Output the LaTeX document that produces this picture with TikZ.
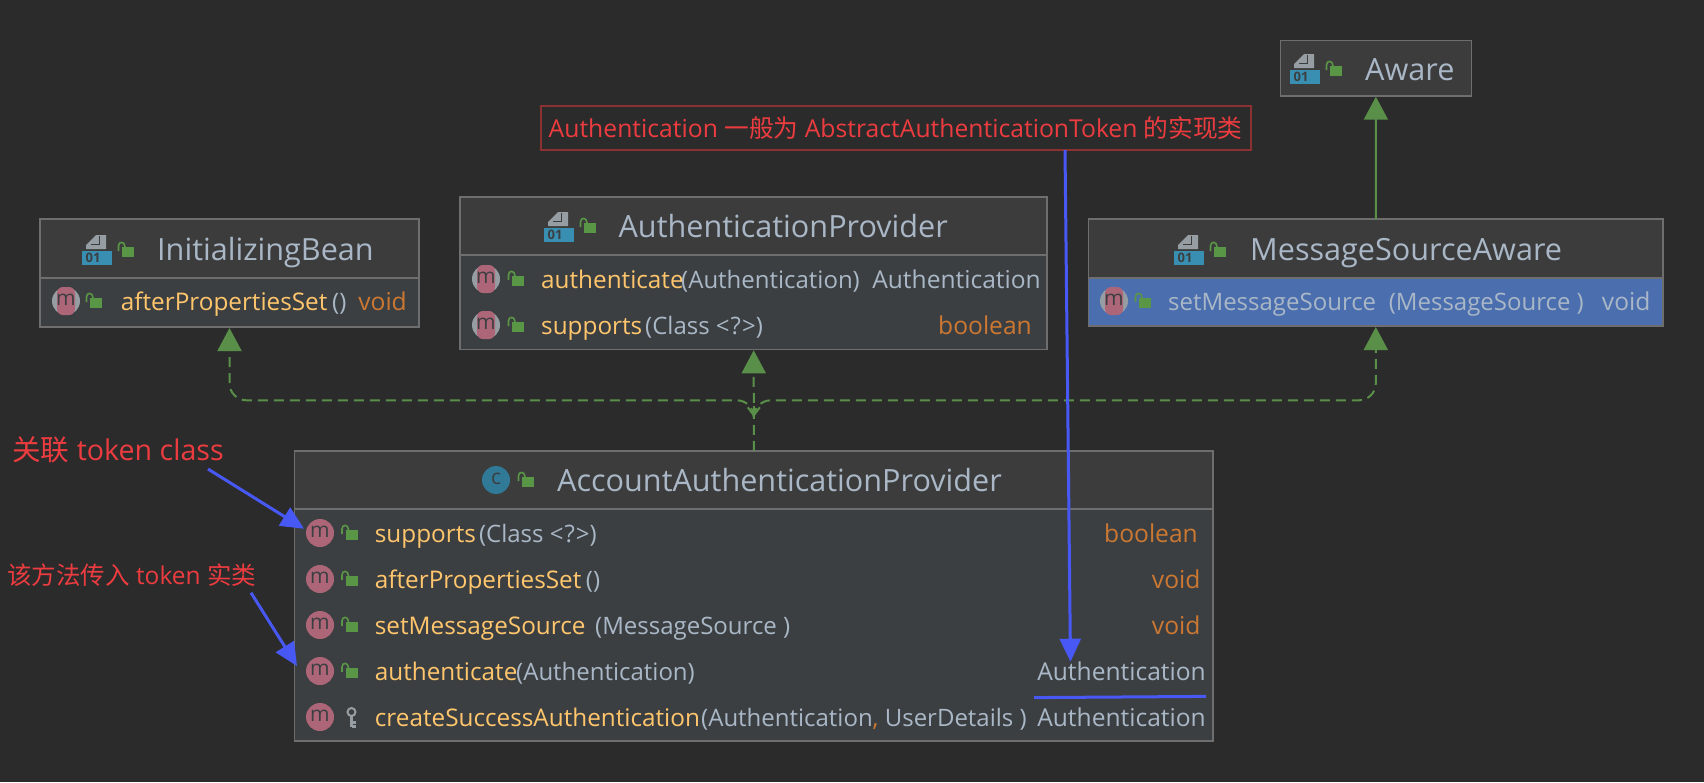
\documentclass[tikz,border=0pt]{standalone}
\usepackage{fontspec}
\setmainfont{Open Sans}
\newfontfamily\cjk{Noto Sans CJK SC}
\usetikzlibrary{arrows.meta}
\definecolor{ground}{RGB}{43, 43, 43}
\definecolor{headfill}{RGB}{60, 60, 60}
\definecolor{bodyfill}{RGB}{60, 63, 65}
\definecolor{edgegray}{RGB}{110, 110, 110}
\definecolor{selectblue}{RGB}{75, 110, 175}
\definecolor{plaintext}{RGB}{169, 183, 198}
\definecolor{methodgold}{RGB}{255, 198, 109}
\definecolor{keyorange}{RGB}{204, 120, 50}
\definecolor{implgreen}{RGB}{89, 143, 72}
\definecolor{lockgreen}{RGB}{89, 150, 69}
\definecolor{methodpink}{RGB}{172, 102, 120}
\definecolor{iconblue}{RGB}{56, 143, 178}
\definecolor{icongray}{RGB}{150, 157, 163}
\definecolor{noteinkred}{RGB}{236, 60, 64}
\definecolor{noteedge}{RGB}{140, 48, 50}
\definecolor{markblue}{RGB}{72, 88, 245}
\tikzset{
    classbox/.style={draw=edgegray, line width=1.6pt, fill=bodyfill, inner sep=0pt, outer sep=0pt},
    titletext/.style={anchor=base west, text=plaintext, inner sep=0pt, font=\fontsize{30.6}{34}\selectfont},
    methodtext/.style={anchor=base west, text=methodgold, inner sep=0pt, font=\fontsize{24.3}{28}\selectfont},
    paramtext/.style={anchor=base west, text=plaintext, inner sep=0pt, font=\fontsize{24}{28}\selectfont},
    returntext/.style={anchor=base east, inner sep=0pt, font=\fontsize{24.6}{28}\selectfont},
    impl/.style={implgreen, line width=2pt, -{Triangle[length=23pt, width=24pt]}, shorten >=1pt},
    dep/.style={impl, dash pattern=on 10pt off 6pt, rounded corners=17pt},
    bluemark/.style={markblue, line width=3pt},
    markarrow/.style={bluemark, -{Triangle[length=23pt, width=21pt]}},
    pics/lockicon/.style={code={
        \fill[lockgreen] (-6,-5) rectangle (6,5);
        \draw[lockgreen, line width=1.6pt] (-9.5,-1) -- (-9.5,-6) .. controls (-9.5,-11) and (-3,-11) .. (-3,-5);
    }},
    pics/keyicon/.style={code={
        \draw[icongray, line width=2pt] (0,-5) circle (4pt);
        \draw[icongray, line width=3pt] (0,-1) -- (0,10) (0,5) -- (4,5) (0,9) -- (4,9);
    }},
    pics/interfaceicon/.style={code={
        \fill[icongray] (-11,-9) -- (9,-9) -- (9,-23) -- (-1,-23) -- (-11,-13) -- cycle;
        \draw[headfill, line width=1pt] (-6,-13.5) -- (2,-13.5) -- (2,-22);
        \fill[iconblue] (-15,-7) rectangle (15,7);
        \node[text=bodyfill, inner sep=0pt, font=\bfseries\fontsize{13}{13}\selectfont] (-digits) at (-4,0) {01};
    }},
    pics/methodicon/.style={code={
        \fill[methodpink] (0,0) circle (14pt);
        \node[text=bodyfill, inner sep=0pt, font=\fontsize{21}{21}\selectfont] (-letter) at (0,-1) {m};
    }},
    pics/methodhint/.style={code={
        \fill[icongray] (0,0) circle (14pt);
        \fill[methodpink, rounded corners=6pt] (-9,-14) rectangle (9,14);
        \node[text=bodyfill, inner sep=0pt, font=\fontsize{21}{21}\selectfont] (-letter) at (0,-1) {m};
    }},
    pics/classicon/.style={code={
        \fill[iconblue!85!black] (0,0) circle (14pt);
        \node[text=bodyfill, inner sep=0pt, font=\fontsize{21}{21}\selectfont] (-letter) at (0,-1) {c};
    }}
}
% header band, divider and frame of a class box
\newcommand{\classhead}[2]{
    \fill[headfill]   (#1.north west) rectangle (#1.east |- 0,#2);
    \draw[edgegray, line width=1.6pt] (#1.west |- 0,#2) -- (#1.east |- 0,#2);
    \draw[edgegray, line width=1.6pt] (#1.north west) rectangle (#1.south east);
}
\begin{document}
\begin{tikzpicture}[x=1pt, y=-1pt]
    \useasboundingbox (0,0) rectangle (1704,782);
    \fill[ground] (0,0) rectangle (1704,782);

    % Class boxes
    \node[classbox, minimum width=379pt, minimum height=108pt]   (init)  at ( 229.5, 273.0) {};
    \node[classbox, minimum width=587pt, minimum height=152.6pt] (prov)  at ( 753.7, 273.0) {};
    \node[classbox, minimum width=191pt, minimum height=55.4pt]  (aware) at (1375.9,  68.0) {};
    \node[classbox, minimum width=574.4pt, minimum height=107pt] (msg)   at (1375.8, 272.5) {};
    \node[classbox, minimum width=918.3pt, minimum height=290.3pt] (acct) at ( 753.8, 595.9) {};
    \fill[selectblue] (msg.west |- 0,278) rectangle (msg.south east);
    \classhead{init}{278}
    \classhead{prov}{255}
    \classhead{aware}{95.7}
    \classhead{msg}{278}
    \classhead{acct}{509}

    % Titles
    \pic (initicon)  at (  97, 258) {interfaceicon};
    \pic (provicon)  at ( 559, 235) {interfaceicon};
    \pic (awareicon) at (1305,  77) {interfaceicon};
    \pic (msgicon)   at (1189, 258) {interfaceicon};
    \pic (accticon)  at ( 496, 480) {classicon};
    \foreach \lockx/\locky in {128/252, 590/228, 1336/71, 1220/252, 528/482}
        \pic at (\lockx,\locky) {lockicon};
    \node[titletext] (inittitle)  at ( 157.0, 260.7) {InitializingBean};
    \node[titletext] (provtitle)  at ( 618.4, 237.0) {AuthenticationProvider};
    \node[titletext] (awaretitle) at (1365.0,  80.0) {Aware};
    \node[titletext] (msgtitle)   at (1250.0, 260.7) {MessageSourceAware};
    \node[titletext] (accttitle)  at ( 557.0, 491.7) {AccountAuthenticationProvider};

    % InitializingBean members
    \pic (initm) at (66, 301) {methodhint};
    \pic at (96, 303) {lockicon};
    \node[methodtext] (initname)  at (120.7, 310.7) {afterPropertiesSet};
    \node[paramtext]  (initparam) at (332.0, 310.7) {()};
    \node[returntext, text=keyorange] (initret) at (407.0, 310.7) {void};

    % AuthenticationProvider members
    \foreach \rowname/\rowy in {authprov/279, suppprov/325}{
        \pic (\rowname m) at (486,\rowy) {methodhint};
        \pic at (518,\rowy+2) {lockicon};
    }
    \node[methodtext] (authprovname)  at (541.0, 288.0) {authenticate};
    \node[paramtext]  (authprovparam) at (681.0, 288.0) {(Authentication)};
    \node[returntext, text=plaintext] (authprovret) at (1041.0, 288.0) {Authentication};
    \node[methodtext] (suppprovname)  at (541.0, 334.0) {supports};
    \node[paramtext]  (suppprovparam) at (645.0, 334.0) {(Class <\kern1pt?\kern1pt>)};
    \node[returntext, text=keyorange] (suppprovret) at (1032.0, 334.0) {boolean};

    % MessageSourceAware members
    \pic (msgm) at (1114, 301) {methodhint};
    \pic at (1145, 303) {lockicon};
    \node[paramtext] (msgname)  at (1168.0, 310.7) {setMessageSource};
    \node[paramtext] (msgparam) at (1388.6, 310.7) {(MessageSource )};
    \node[returntext, text=plaintext] (msgret) at (1650.6, 310.7) {void};

    % AccountAuthenticationProvider members
    \foreach \rowname/\rowy/\rowtext/\parx/\rowparam/\rowcol/\rowend/\rowret in {
        supp/533/supports/478.8/{(Class <\kern1pt?\kern1pt>)}/keyorange/1198/boolean,
        after/579/afterPropertiesSet/585.7/{()}/keyorange/1200.6/void,
        setm/625/setMessageSource/595.0/{(MessageSource )}/keyorange/1200.6/void,
        auth/671/authenticate/516.0/{(Authentication)}/plaintext/1206/Authentication,
        crea/717/createSuccessAuthentication/701.0/{(Authentication{\color{keyorange},} UserDetails )}/plaintext/1206/Authentication
    }{
        \pic (\rowname m) at (320,\rowy) {methodicon};
        \node[methodtext] (\rowname name)  at (374.7,\rowy+9) {\rowtext};
        \node[paramtext]  (\rowname param) at (\parx,\rowy+9) {\rowparam};
        \node[returntext, text=\rowcol] (\rowname ret) at (\rowend,\rowy+9) {\rowret};
    }
    \foreach \rowy in {533, 579, 625, 671}
        \pic at (351.5,\rowy+2) {lockicon};
    \pic at (351.5,717) {keyicon};

    % Realizations
    \coordinate (merge) at (753.8, 417);
    \coordinate (bus)   at (753.8, 400.3);
    \draw[impl] (msg.north) -- (aware.south);
    \draw[dep]  (acct.north) -- (prov.south);
    \draw[dep]  (merge) |- (init.south |- bus) -- (init.south);
    \draw[dep]  (merge) |- (msg.south |- bus) -- (msg.south);
    \draw[implgreen, line width=2pt, -{Straight Barb[length=8pt, width=12pt]}] (753.8, 406) -- (merge);

    % Notes in red
    \node[draw=noteedge, line width=2pt, minimum width=710pt, minimum height=44.3pt, inner sep=0pt, outer sep=0pt,
          text=noteinkred, font=\fontsize{24.7}{28}\selectfont] (note) at (895.7, 127.8)
        {Authentication {\cjk 一般为} AbstractAuthenticationToken {\cjk 的实现类}};
    \node[anchor=west, inner sep=0pt, text=noteinkred, font=\fontsize{28.6}{32}\selectfont] (linklabel) at (12, 450)
        {{\cjk 关联} token class};
    \node[anchor=west, inner sep=0pt, text=noteinkred, font=\fontsize{24.5}{28}\selectfont] (passlabel) at (7, 575)
        {{\cjk 该方法传入} token {\cjk 实类}};

    % Blue marks
    \coordinate (linktail) at (208, 469);
    \coordinate (linktip)  at (304, 528.7);
    \coordinate (passtail) at (251, 592.7);
    \coordinate (passtip)  at (297, 666);
    \coordinate (notetail) at (1065, 150);
    \coordinate (notetip)  at (1070.5, 661.7);
    \coordinate (lineleft)  at (1034, 697.6);
    \coordinate (lineright) at (1206, 696.4);
    \draw[markarrow] (linktail) -- (linktip);
    \draw[markarrow] (passtail) -- (passtip);
    \draw[markarrow] (notetail) -- (notetip);
    \draw[bluemark]  (lineleft) -- (lineright);
\end{tikzpicture}
\end{document}
